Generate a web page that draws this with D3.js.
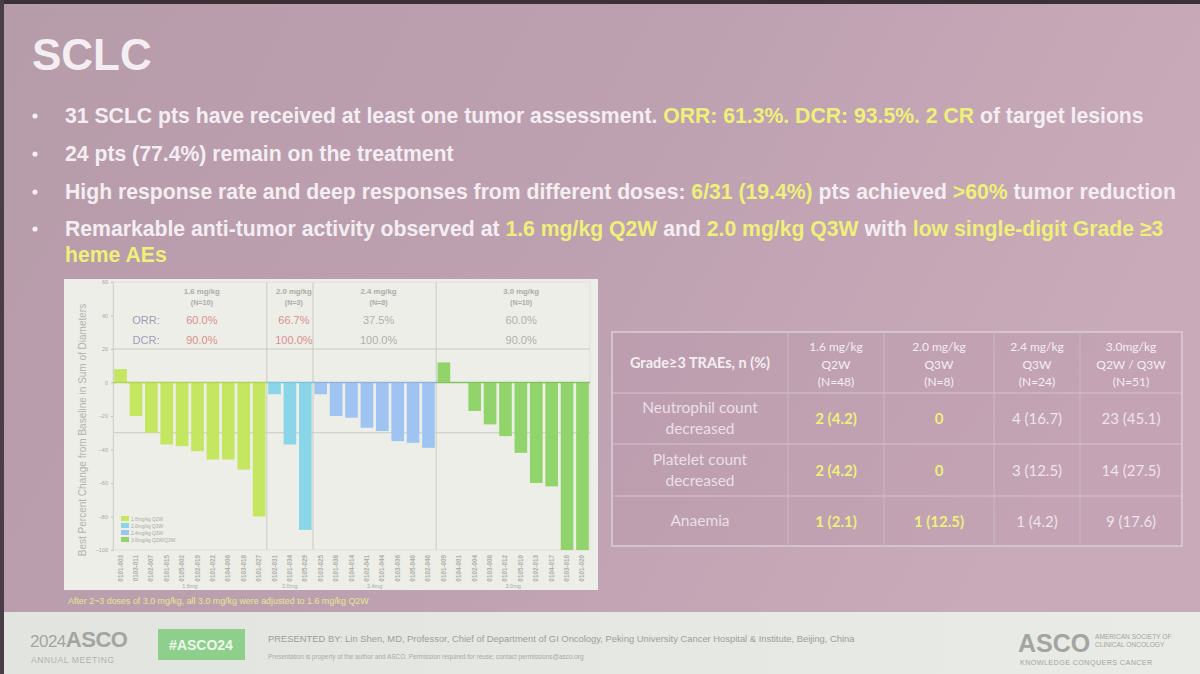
<!DOCTYPE html>
<html>
<head>
<meta charset="utf-8">
<script src="https://cdn.jsdelivr.net/npm/d3@7"></script>
<style>
  html, body { margin: 0; padding: 0; background: #2e2a2e; }
  svg { display: block; }
</style>
</head>
<body>
<svg id="slide" width="1200" height="674"></svg>
<script>
// ---- waterfall data (best % change from baseline) ----
const doseGroups = ["1.6 mg/kg", "2.0 mg/kg", "2.4 mg/kg", "3.0 mg/kg"];
const groupN = [10, 3, 8, 10];
const orrValues = ["60.0%", "66.7%", "37.5%", "60.0%"];
const dcrValues = ["90.0%", "100.0%", "100.0%", "90.0%"];
const axisGroupLabels = ["1.6mg", "2.0mg", "2.4mg", "3.0mg"];
const change16 = [8, -20, -30, -37, -38, -41, -46, -46, -52, -80];
const change20 = [-7, -37, -88];
const change24 = [-7, -20, -21, -27, -29, -35, -36, -39];
const change30 = [12, 0, -17, -25, -32, -42, -60, -62, -100, -100];
const legendLabels = ["1.6mg/kg Q2W", "2.0mg/kg Q3W", "2.4mg/kg Q3W", "3.0mg/kg Q2W/Q3W"];
const patientIds = [
  "0101-003", "0103-011", "0102-007", "0101-015", "0105-002", "0102-019", "0101-022", "0104-006", "0103-018", "0101-027",
  "0102-031", "0101-034", "0105-029",
  "0103-025", "0101-038", "0104-014", "0102-041", "0101-044", "0103-036", "0105-040", "0102-046",
  "0101-009", "0104-001", "0102-004", "0103-008", "0101-012", "0105-010", "0102-013", "0104-017", "0103-016", "0101-020"
];
const yTicks = [60, 40, 20, 0, -20, -40, -60, -80, -100];

// ---- AE table ----
const aeHeaderTitle = "Grade≥3 TRAEs, n (%)";
const aeColumns = [["1.6 mg/kg", "Q2W", "(N=48)"], ["2.0 mg/kg", "Q3W", "(N=8)"], ["2.4 mg/kg", "Q3W", "(N=24)"], ["3.0mg/kg", "Q2W / Q3W", "(N=51)"]];
const aeTerms = [["Neutrophil count", "decreased"], ["Platelet count", "decreased"], ["Anaemia"]];
const aeValues = [
  ["2 (4.2)", "0", "4 (16.7)", "23 (45.1)"],
  ["2 (4.2)", "0", "3 (12.5)", "14 (27.5)"],
  ["1 (2.1)", "1 (12.5)", "1 (4.2)", "9 (17.6)"]
];
const aeHighlightCols = [0, 1];

// ---- slide text ----
const title = "SCLC";
const bullets = [
  [["31 SCLC pts have received at least one tumor assessment. ", 0], ["ORR: 61.3%. DCR: 93.5%. 2 CR", 1], [" of target lesions", 0]],
  [["24 pts (77.4%) remain on the treatment", 0]],
  [["High response rate and deep responses from different doses: ", 0], ["6/31 (19.4%)", 1], [" pts achieved ", 0], [">60%", 1], [" tumor reduction", 0]],
  [["Remarkable anti-tumor activity observed at ", 0], ["1.6 mg/kg Q2W", 1], [" and ", 0], ["2.0 mg/kg Q3W", 1], [" with ", 0], ["low single-digit Grade ≥3", 1]],
  [["heme AEs", 1]]
];
const footnote = "After 2~3 doses of 3.0 mg/kg, all 3.0 mg/kg were adjusted to 1.6 mg/kg Q2W";
const presenter = "PRESENTED BY: Lin Shen, MD, Professor, Chief of Department of GI Oncology, Peking University Cancer Hospital & Institute, Beijing, China";
const copyright = "Presentation is property of the author and ASCO. Permission required for reuse; contact permissions@asco.org";

const white = "#f4eef2";
const yellow = "#eef07a";
const groupColors = ["#c4e660", "#8ad6e8", "#9fc4f2", "#92d46c"];
const sans = "Liberation Sans, Arial, sans-serif";

const svg = d3.select("#slide");
const defs = svg.append("defs");

// background gradient (photo of a mauve slide)
const bg = defs.append("linearGradient").attr("id", "bg").attr("x1", 0).attr("y1", 0).attr("x2", 1).attr("y2", 0.3);
bg.append("stop").attr("offset", "0%").attr("stop-color", "#b69ba9");
bg.append("stop").attr("offset", "55%").attr("stop-color", "#bea1b1");
bg.append("stop").attr("offset", "100%").attr("stop-color", "#c9aab9");
svg.append("rect").attr("x", 0).attr("y", 0).attr("width", 1200).attr("height", 674).attr("fill", "url(#bg)");

// footer band
const fg = defs.append("linearGradient").attr("id", "foot").attr("x1", 0).attr("y1", 0).attr("x2", 1).attr("y2", 0);
fg.append("stop").attr("offset", "0%").attr("stop-color", "#e2e5df");
fg.append("stop").attr("offset", "100%").attr("stop-color", "#e9ebe6");
svg.append("rect").attr("x", 0).attr("y", 612).attr("width", 1200).attr("height", 62).attr("fill", "url(#foot)");

// dark photo edges
svg.append("rect").attr("x", 0).attr("y", 0).attr("width", 1200).attr("height", 4).attr("fill", "#3a3036");
svg.append("rect").attr("x", 0).attr("y", 0).attr("width", 4).attr("height", 674).attr("fill", "#4a3e46");

// title
svg.append("text").attr("x", 32).attr("y", 70)
  .attr("font-family", sans).attr("font-weight", "bold")
  .attr("font-size", 44).attr("fill", white).text(title);

// bullets
const bulletY = [123, 161, 199, 236, 262];
bullets.forEach((segs, i) => {
  if (i < 4) {
    svg.append("circle").attr("cx", 35).attr("cy", bulletY[i] - 7).attr("r", 2.6).attr("fill", white);
  }
  const t = svg.append("text").attr("x", 65).attr("y", bulletY[i])
    .attr("font-family", sans).attr("font-weight", "bold")
    .attr("font-size", 21.2);
  segs.forEach(s => t.append("tspan").attr("fill", s[1] ? yellow : white).text(s[0]));
});

// ================= waterfall chart =================
const panel = { x: 64, y: 279, w: 534, h: 311 };
svg.append("rect").attr("x", panel.x).attr("y", panel.y).attr("width", panel.w).attr("height", panel.h)
  .attr("fill", "#eceee7");

const plot = { left: 113, right: 590, top: 282, bottom: 550 };
const allChanges = [change16, change20, change24, change30];
const bars = [];
allChanges.forEach((arr, g) => arr.forEach(v => bars.push({ group: g, value: v })));
bars.forEach((b, i) => { b.id = patientIds[i]; b.idx = i; });

const x = d3.scaleBand().domain(d3.range(bars.length)).range([plot.left, plot.right]).paddingInner(0.18).paddingOuter(0.08);
const y = d3.scaleLinear().domain([-100, 60]).range([plot.bottom, plot.top]);
const step = x.step();

const chart = svg.append("g");

// plot border
chart.append("rect").attr("x", plot.left).attr("y", plot.top).attr("width", plot.right - plot.left)
  .attr("height", plot.bottom - plot.top).attr("fill", "none").attr("stroke", "#dcddd6").attr("stroke-width", 0.8);

// reference lines at +20 and -30
[20, -30].forEach(v => {
  chart.append("line").attr("x1", plot.left).attr("x2", plot.right).attr("y1", y(v)).attr("y2", y(v))
    .attr("stroke", "#c9cbc3").attr("stroke-width", 1);
});

// group boundaries
const groupStart = [];
let acc = 0;
groupN.forEach(n => { groupStart.push(acc); acc += n; });
groupStart.slice(1).forEach(s => {
  const xx = x(s) - step * x.paddingInner() / 2;
  chart.append("line").attr("x1", xx).attr("x2", xx).attr("y1", plot.top).attr("y2", plot.bottom)
    .attr("stroke", "#c9cbc3").attr("stroke-width", 1);
});

// y axis
const yAxis = chart.append("g").attr("transform", `translate(${plot.left},0)`)
  .call(d3.axisLeft(y).tickValues(yTicks).tickSize(2).tickPadding(3));
yAxis.select(".domain").attr("stroke", "#d0d1ca");
yAxis.selectAll(".tick line").attr("stroke", "#c0c0bb");
yAxis.selectAll("text").attr("fill", "#a9a9a6").attr("font-size", 5.5).attr("font-family", sans);

chart.append("text")
  .attr("transform", `translate(86,${(plot.top + plot.bottom) / 2 + 14}) rotate(-90)`)
  .attr("text-anchor", "middle").attr("font-size", 10).attr("fill", "#b3b3b0")
  .attr("font-family", sans)
  .text("Best Percent Change from Baseline in Sum of Diameters");

// bars
chart.selectAll("rect.bar").data(bars).enter().append("rect").attr("class", "bar")
  .attr("x", d => x(d.idx))
  .attr("width", x.bandwidth())
  .attr("y", d => Math.min(y(d.value), y(0)))
  .attr("height", d => Math.abs(y(d.value) - y(0)))
  .attr("fill", d => groupColors[d.group]);

// zero line coloured per group
groupN.forEach((n, g) => {
  const x0 = g === 0 ? plot.left : x(groupStart[g]) - step * x.paddingInner() / 2;
  const last = groupStart[g] + n - 1;
  const x1 = g === groupN.length - 1 ? plot.right : x(last) + x.bandwidth() + step * x.paddingInner() / 2;
  chart.append("line").attr("x1", x0).attr("x2", x1).attr("y1", y(0)).attr("y2", y(0))
    .attr("stroke", d3.color(groupColors[g]).darker(0.25)).attr("stroke-width", 1.6);
});

// dose / N / ORR / DCR annotations
groupN.forEach((n, g) => {
  const cx = (x(groupStart[g]) + x(groupStart[g] + n - 1) + x.bandwidth()) / 2 + (g === 0 ? 12 : g === 3 ? 8 : 4);
  const red = g < 2;
  chart.append("text").attr("x", cx).attr("y", 294).attr("text-anchor", "middle").attr("font-size", 7.8)
    .attr("font-family", sans).attr("font-weight", "bold").attr("fill", "#acacaa").text(doseGroups[g]);
  chart.append("text").attr("x", cx).attr("y", 305).attr("text-anchor", "middle").attr("font-size", 7.2)
    .attr("font-family", sans).attr("font-weight", "bold").attr("fill", "#acacaa").text(`(N=${n})`);
  chart.append("text").attr("x", cx).attr("y", 324).attr("text-anchor", "middle").attr("font-size", 11)
    .attr("font-family", sans).attr("fill", red ? "#dc8e90" : "#b1b1ae").text(orrValues[g]);
  chart.append("text").attr("x", cx).attr("y", 344).attr("text-anchor", "middle").attr("font-size", 11)
    .attr("font-family", sans).attr("fill", red ? "#dc8e90" : "#b1b1ae").text(dcrValues[g]);
});
chart.append("text").attr("x", 146).attr("y", 324).attr("text-anchor", "middle").attr("font-size", 11)
  .attr("font-family", sans).attr("fill", "#a09eb8").text("ORR:");
chart.append("text").attr("x", 146).attr("y", 344).attr("text-anchor", "middle").attr("font-size", 11)
  .attr("font-family", sans).attr("fill", "#a09eb8").text("DCR:");

// legend
legendLabels.forEach((lab, i) => {
  const ly = 516 + i * 7;
  chart.append("rect").attr("x", 121).attr("y", ly).attr("width", 8).attr("height", 5).attr("fill", groupColors[i]);
  chart.append("text").attr("x", 131).attr("y", ly + 4.6).attr("font-size", 4.8).attr("font-family", sans)
    .attr("fill", "#a9a9a6").text(lab);
});

// x axis: rotated patient ids
chart.selectAll("text.pid").data(bars).enter().append("text").attr("class", "pid")
  .attr("transform", d => `translate(${x(d.idx) + x.bandwidth() / 2 + 2},${plot.bottom + 5}) rotate(-90)`)
  .attr("text-anchor", "end").attr("font-size", 6.3).attr("font-family", sans)
  .attr("font-weight", "bold").attr("fill", "#b0b0ad").text(d => d.id);

axisGroupLabels.forEach((lab, g) => {
  const cx = (x(groupStart[g]) + x(groupStart[g] + groupN[g] - 1) + x.bandwidth()) / 2;
  chart.append("text").attr("x", cx).attr("y", 588).attr("text-anchor", "middle").attr("font-size", 5.5)
    .attr("font-family", sans).attr("fill", "#aaaaa7").text(lab);
});

// footnote
svg.append("text").attr("x", 68).attr("y", 604).attr("font-size", 8.9).attr("font-family", sans)
  .attr("fill", "#e6e68e").text(footnote);

// ================= AE table =================
const colEdges = [612, 788, 884, 994, 1080, 1182];
const rowEdges = [332, 393, 444, 496, 546];
const tFont = "Lato, 'Open Sans', sans-serif";
const tblG = svg.append("g");
tblG.append("rect").attr("x", colEdges[0]).attr("y", rowEdges[0])
  .attr("width", colEdges[5] - colEdges[0]).attr("height", rowEdges[4] - rowEdges[0])
  .attr("fill", "#b594a8").attr("fill-opacity", 0.3).attr("stroke", "#dccad6").attr("stroke-width", 1.6);
rowEdges.slice(1, -1).forEach(ry => tblG.append("line").attr("x1", colEdges[0]).attr("x2", colEdges[5])
  .attr("y1", ry).attr("y2", ry).attr("stroke", "#d6c2cf").attr("stroke-width", 1.2));
colEdges.slice(1, -1).forEach(cx => tblG.append("line").attr("x1", cx).attr("x2", cx)
  .attr("y1", rowEdges[0]).attr("y2", rowEdges[4]).attr("stroke", "#cdb7c6").attr("stroke-width", 1));

const colMid = i => (colEdges[i] + colEdges[i + 1]) / 2;
tblG.append("text").attr("x", colMid(0)).attr("y", 368).attr("text-anchor", "middle")
  .attr("font-family", tFont).attr("font-weight", "bold").attr("font-size", 14.5).attr("fill", white).text(aeHeaderTitle);
aeColumns.forEach((lines, c) => {
  lines.forEach((ln, k) => {
    tblG.append("text").attr("x", colMid(c + 1)).attr("y", 351 + k * 17.5).attr("text-anchor", "middle")
      .attr("font-family", tFont).attr("font-size", 12).attr("fill", white).text(ln);
  });
});
aeTerms.forEach((lines, r) => {
  const midY = (rowEdges[r + 1] + rowEdges[r + 2]) / 2;
  const start = midY - (lines.length - 1) * 10.5 + 5;
  lines.forEach((ln, k) => {
    tblG.append("text").attr("x", colMid(0)).attr("y", start + k * 21).attr("text-anchor", "middle")
      .attr("font-family", tFont).attr("font-size", 15.5).attr("fill", "#ecdfe7").text(ln);
  });
  aeValues[r].forEach((v, c) => {
    const hl = aeHighlightCols.includes(c);
    tblG.append("text").attr("x", colMid(c + 1)).attr("y", midY + 5.5).attr("text-anchor", "middle")
      .attr("font-family", tFont).attr("font-weight", hl ? "bold" : "normal").attr("font-size", 15)
      .attr("fill", hl ? yellow : "#efe4eb").text(v);
  });
});

// ================= footer =================
const gray = "#a3a5a2";
svg.append("text").attr("x", 30).attr("y", 647).attr("font-family", sans).attr("font-size", 17)
  .attr("fill", gray).attr("letter-spacing", -0.5)
  .call(t => { t.append("tspan").attr("font-weight", "normal").text("2024"); t.append("tspan").attr("font-weight", "bold").attr("font-size", 22).text("ASCO"); });
svg.append("text").attr("x", 31).attr("y", 663).attr("font-family", sans).attr("font-size", 8.5)
  .attr("fill", "#b0b2af").attr("letter-spacing", 0.6).text("ANNUAL MEETING");
svg.append("rect").attr("x", 158).attr("y", 629).attr("width", 87).attr("height", 31).attr("fill", "#8fcf8c");
svg.append("text").attr("x", 201).attr("y", 650).attr("text-anchor", "middle").attr("font-family", sans)
  .attr("font-weight", "bold").attr("font-size", 14).attr("fill", "#eef7ec").text("#ASCO24");
svg.append("text").attr("x", 268).attr("y", 642).attr("font-family", sans).attr("font-size", 9.4)
  .attr("fill", "#9c9e9b").text(presenter);
svg.append("text").attr("x", 268).attr("y", 659).attr("font-family", sans).attr("font-size", 6.4)
  .attr("fill", "#a8aaa7").text(copyright);
svg.append("text").attr("x", 1018).attr("y", 652).attr("font-family", sans).attr("font-weight", "bold")
  .attr("font-size", 25).attr("fill", gray).text("ASCO");
svg.append("text").attr("x", 1095).attr("y", 639).attr("font-family", sans).attr("font-size", 6.6)
  .attr("fill", gray).text("AMERICAN SOCIETY OF");
svg.append("text").attr("x", 1095).attr("y", 647).attr("font-family", sans).attr("font-size", 6.6)
  .attr("fill", gray).text("CLINICAL ONCOLOGY");
svg.append("text").attr("x", 1020).attr("y", 665).attr("font-family", sans).attr("font-size", 7.2)
  .attr("fill", gray).attr("letter-spacing", 0.4).text("KNOWLEDGE CONQUERS CANCER");
</script>
</body>
</html>
